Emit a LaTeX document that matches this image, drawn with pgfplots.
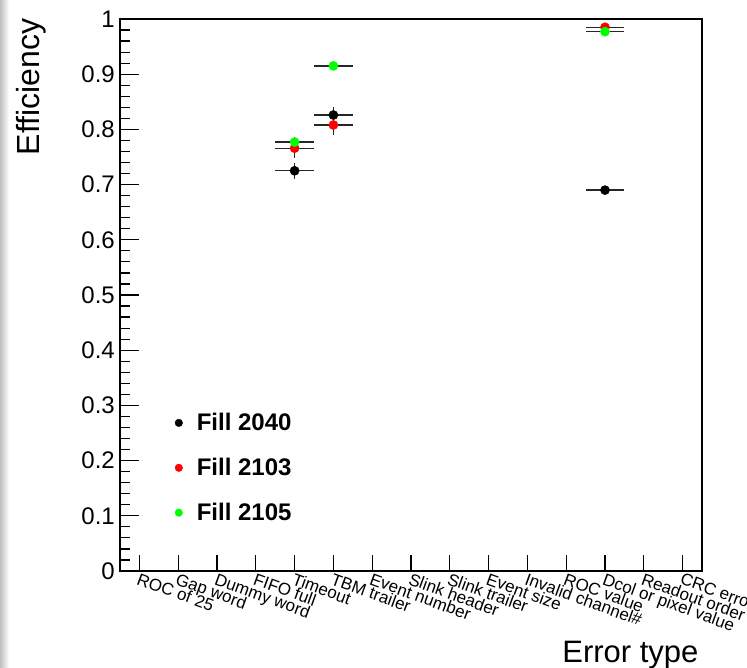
\documentclass[border=0pt]{standalone}
\usepackage{fontspec}
\setmainfont{Liberation Sans}
\usepackage{pgfplots}
\usepackage{pgfplotstable}
\pgfplotsset{compat=1.18}

% columns: category index, efficiency, x error (half bin), y error
\pgfplotstableread{
x  y      ex   ey
4  0.725  0.5  0.015
5  0.826  0.5  0.015
12 0.690  0.5  0.004
}\fillA
\pgfplotstableread{
x  y      ex   ey
4  0.766  0.5  0.017
5  0.808  0.5  0.018
12 0.985  0.5  0.004
}\fillB
\pgfplotstableread{
x  y      ex   ey
4  0.777  0.5  0.010
5  0.915  0.5  0.004
12 0.977  0.5  0.004
}\fillC

\begin{document}
\begin{tikzpicture}
\useasboundingbox (0pt,0pt) rectangle (747pt,668pt);
\clip (0pt,0pt) rectangle (747pt,668pt);
\shade[left color=black!25, right color=white] (0pt,0pt) rectangle (9pt,668pt);
\begin{axis}[
    at={(120pt,97pt)}, anchor=south west,
    scale only axis,
    width=582pt, height=552pt,
    xmin=-0.5, xmax=14.5,
    ymin=0, ymax=1,
    axis line style={line width=1.2pt},
    tick align=inside, tick pos=left,
    every tick/.style={black, line width=1.2pt},
    major tick length=19pt, minor tick length=10pt,
    x tick style={/pgfplots/major tick length=16pt},
    xtick={0,1,...,14},
    xticklabels={ROC of 25, Gap word, Dummy word, FIFO full, Timeout,
        TBM trailer, Event number, Slink header, Slink trailer, Event size,
        Invalid channel\#, ROC value, Dcol or pixel value, Readout order, CRC error},
    ytick={0,0.1,0.2,0.3,0.4,0.5,0.6,0.7,0.8,0.9,1},
    minor y tick num=4,
    /pgf/number format/assume math mode=true,
    yticklabel style={/pgf/number format/fixed, /pgf/number format/precision=1,
        font=\fontsize{24}{24}\selectfont, inner sep=0pt, xshift=-5pt},
    xticklabel style={font=\fontsize{17}{17}\selectfont, rotate=-20,
        anchor=north west, inner sep=1pt},
    xlabel={Error type},
    xlabel style={font=\fontsize{31}{31}\selectfont, at={(axis description cs:1,-0.165)}, anchor=base east},
    ylabel={Efficiency},
    ylabel style={font=\fontsize{32}{32}\selectfont, at={(axis description cs:-0.139,1.007)}, anchor=base east},
    error bars/error bar style={black!85, line width=1.3pt},
    error bars/error mark=none,
    legend style={draw=none, fill=none, at={(axis description cs:0.0887,0.293)}, anchor=north west,
        font=\bfseries\fontsize{24}{26}\selectfont, row sep=22pt},
    legend cell align=left,
    legend image code/.code={\fill (0pt,0pt) circle (3.8pt); \path[draw=none,fill=none] (-3.8pt,0pt) -- (16pt,0pt);},
]
\addplot[only marks, mark=*, mark size=4.6pt, black,
    error bars/.cd, x dir=both, x explicit, y dir=both, y explicit]
    table[x=x, y=y, x error=ex, y error=ey] {\fillA};
\addlegendentry{Fill 2040}
\addplot[only marks, mark=*, mark size=4.6pt, red,
    error bars/.cd, x dir=both, x explicit, y dir=both, y explicit]
    table[x=x, y=y, x error=ex, y error=ey] {\fillB};
\addlegendentry{Fill 2103}
\addplot[only marks, mark=*, mark size=4.6pt, green,
    error bars/.cd, x dir=both, x explicit, y dir=both, y explicit]
    table[x=x, y=y, x error=ex, y error=ey] {\fillC};
\addlegendentry{Fill 2105}
\end{axis}
\end{tikzpicture}
\end{document}
